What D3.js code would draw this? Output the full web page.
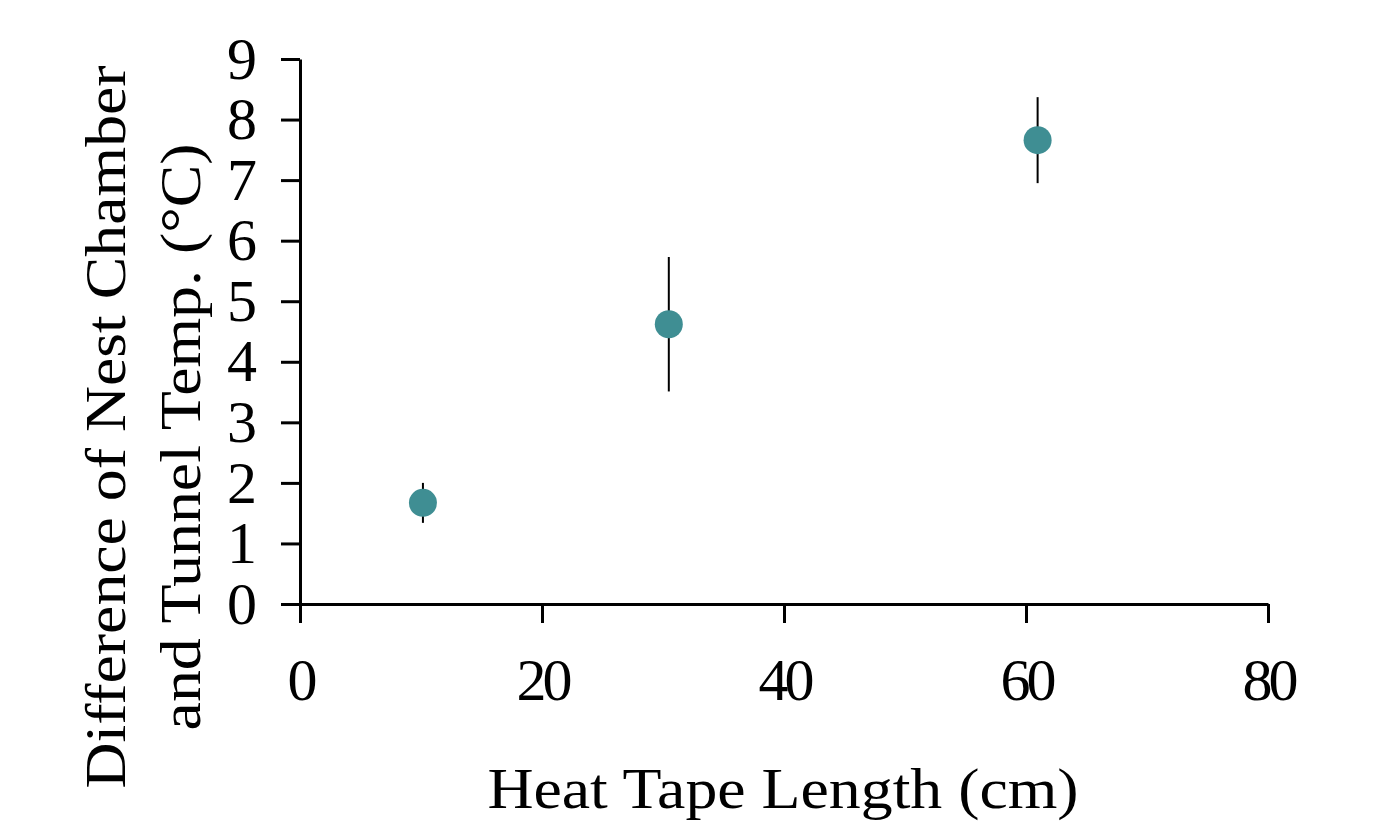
<!DOCTYPE html>
<html>
  <head>
    <title>Heat tape</title>
    <meta charset="utf-8">
    <script src='https://d3js.org/d3.v7.min.js'></script>
    <style>
      body { margin: 0; background: #fff; }
      text { font-family: "Liberation Serif", "Times New Roman", serif; fill: #000; }
    </style>
  </head>
  <body>
    <script>

    // data
    var lengths = [10.16, 30.48, 60.96];
    var diffs = [1.67, 4.62, 7.66];
    var errs = [0.33, 1.11, 0.71];
    var xTicks = [0, 20, 40, 60, 80];
    var yTicks = [0, 1, 2, 3, 4, 5, 6, 7, 8, 9];

    var width = 1373;
    var height = 823;
    var mLeft = 300, mRight = 1268, mTop = 59, mBottom = 604;

    var x = d3.scaleLinear().domain([0, 80]).range([mLeft, mRight]);
    var y = d3.scaleLinear().domain([0, 9]).range([mBottom, mTop]);

    var svg = d3.select('body')
      .append('svg')
      .attr('width', width)
      .attr('height', height);

    svg.append('g')
      .attr('transform', 'translate(0,' + mBottom + ')')
      .call(d3.axisBottom(x).tickValues(xTicks).tickSize(19).tickSizeOuter(0).tickPadding(34));

    svg.append('g')
      .attr('transform', 'translate(' + mLeft + ',0)')
      .call(d3.axisLeft(y).tickValues(yTicks).tickSize(19).tickSizeOuter(0).tickPadding(28));

    svg.selectAll('.domain, .tick line')
      .attr('stroke', '#000')
      .attr('stroke-width', 3);

    svg.selectAll('.tick text')
      .style('font-size', '60px')
      .style('letter-spacing', '-4px')
      .attr('fill', '#000');

    var pts = d3.range(lengths.length).map(function(i) {
      return {x: lengths[i], y: diffs[i], e: errs[i]};
    });

    svg.selectAll('.err')
      .data(pts)
      .enter().append('line')
      .attr('class', 'err')
      .attr('x1', function(d) { return x(d.x); })
      .attr('x2', function(d) { return x(d.x); })
      .attr('y1', function(d) { return y(d.y + d.e); })
      .attr('y2', function(d) { return y(d.y - d.e); })
      .attr('stroke', '#000')
      .attr('stroke-width', 2);

    svg.selectAll('.dot')
      .data(pts)
      .enter().append('circle')
      .attr('class', 'dot')
      .attr('r', 14)
      .attr('cx', function(d) { return x(d.x); })
      .attr('cy', function(d) { return y(d.y); })
      .style('fill', '#3f8e93');

    // titles look a bit stretched along the baseline in the original
    svg.append('text')
      .attr('transform', 'translate(783,808) scale(1.1,1)')
      .attr('text-anchor', 'middle')
      .style('font-size', '58px')
      .text('Heat Tape Length (cm)');

    svg.append('text')
      .attr('transform', 'translate(125,427) rotate(-90) scale(1.1,1)')
      .attr('text-anchor', 'middle')
      .style('font-size', '58px')
      .text('Difference of Nest Chamber');

    svg.append('text')
      .attr('transform', 'translate(200,437) rotate(-90) scale(1.1,1)')
      .attr('text-anchor', 'middle')
      .style('font-size', '58px')
      .text('and Tunnel Temp. (°C)');

    </script>
  </body>
</html>
